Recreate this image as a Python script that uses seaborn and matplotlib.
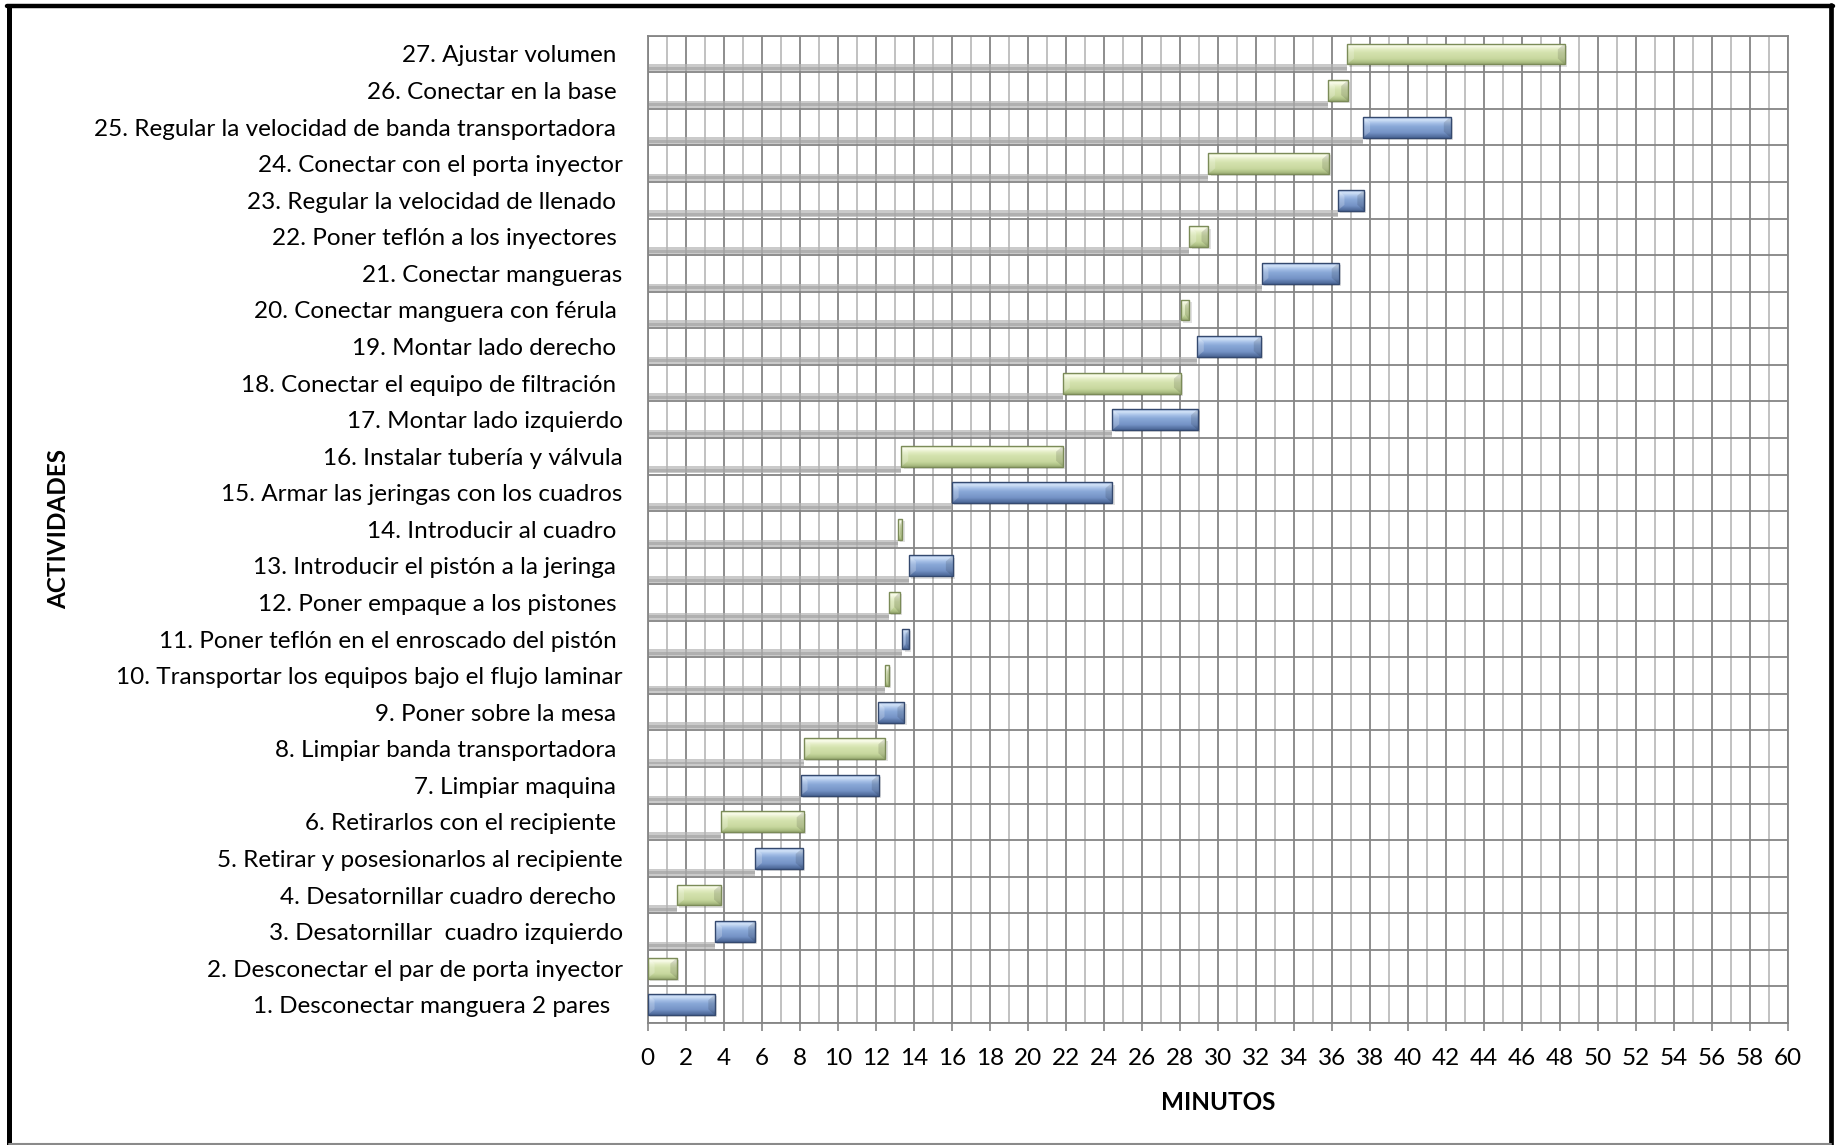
import numpy as np
import pandas as pd
import matplotlib
matplotlib.use("Agg")
import matplotlib.pyplot as plt
from matplotlib.patches import Rectangle, Polygon
from matplotlib.colors import to_rgb
import seaborn as sns

# ---- data -------------------------------------------------------------
actividades = [
    "1. Desconectar manguera 2 pares  ",
    "2. Desconectar el par de porta inyector",
    "3. Desatornillar  cuadro izquierdo",
    "4. Desatornillar cuadro derecho ",
    "5. Retirar y posesionarlos al recipiente",
    "6. Retirarlos con el recipiente ",
    "7. Limpiar maquina ",
    "8. Limpiar banda transportadora ",
    "9. Poner sobre la mesa ",
    "10. Transportar los equipos bajo el flujo laminar",
    "11. Poner teflón en el enroscado del pistón ",
    "12. Poner empaque a los pistones ",
    "13. Introducir el pistón a la jeringa ",
    "14. Introducir al cuadro ",
    "15. Armar las jeringas con los cuadros",
    "16. Instalar tubería y válvula",
    "17. Montar lado izquierdo",
    "18. Conectar el equipo de filtración ",
    "19. Montar lado derecho ",
    "20. Conectar manguera con férula ",
    "21. Conectar mangueras",
    "22. Poner teflón a los inyectores ",
    "23. Regular la velocidad de llenado ",
    "24. Conectar con el porta inyector",
    "25. Regular la velocidad de banda transportadora ",
    "26. Conectar en la base ",
    "27. Ajustar volumen ",
]

inicio = [0.0, 0.0, 3.55, 1.55, 5.65, 3.85, 8.05, 8.2, 12.1, 12.5,
          13.4, 12.7, 13.75, 13.15, 16.0, 13.35, 24.45, 21.85, 28.9, 28.05,
          32.3, 28.5, 36.3, 29.5, 37.65, 35.8, 36.8]

duracion = [3.55, 1.55, 2.1, 2.3, 2.5, 4.35, 4.1, 4.3, 1.4, 0.2,
            0.35, 0.55, 2.3, 0.25, 8.45, 8.5, 4.5, 6.2, 3.35, 0.45,
            4.05, 1.0, 1.4, 6.35, 4.6, 1.05, 11.45]

tipo = ["azul", "verde", "azul", "verde", "azul", "verde", "azul", "verde",
        "azul", "verde", "azul", "verde", "azul", "verde", "azul", "verde",
        "azul", "verde", "azul", "verde", "azul", "verde", "azul", "verde",
        "azul", "verde", "verde"]

xticks = list(range(0, 61, 2))

df = pd.DataFrame({"actividad": actividades, "inicio": inicio,
                   "duracion": duracion, "tipo": tipo})
orden = actividades[::-1]          # last activity on top

# ---- style ------------------------------------------------------------
sns.set_theme(style="white")
plt.rcParams["font.family"] = ["Lato", "DejaVu Sans"]
FS = 17.5

W, H = 1837, 1145
fig = plt.figure(figsize=(W / 100, H / 100), dpi=100)
ax = fig.add_axes([647.7 / W, 1 - 1023 / H, (1788 - 647.7) / W, (1023 - 35.7) / H])

# shadow strips under each row (from 0 to the start of the task)
sns.barplot(data=df, x="inicio", y="actividad", order=orden, orient="h",
            color="#b4b4b4", width=0.19, saturation=1, errorbar=None,
            ax=ax, zorder=2)
for p in ax.patches:
    p.set_y(p.get_y() + 0.375)
    p.set_alpha(0.7)
    p.set_linewidth(0)
# darker core of the shadow
sns.barplot(data=df, x="inicio", y="actividad", order=orden, orient="h",
            color="#a0a0a0", width=0.08, saturation=1, errorbar=None,
            ax=ax, zorder=2.1)
n_sombra = len(orden)
for p in ax.patches[n_sombra:]:
    p.set_y(p.get_y() + 0.39)
    p.set_alpha(0.6)
    p.set_linewidth(0)

pos = {a: i for i, a in enumerate(orden)}
ypos = np.array([pos[a] for a in df["actividad"]])

paletas = {
    "azul": {
        "stops": [(0.0, "#9fbbe4"), (0.12, "#d3e3f8"), (0.3, "#a3bee6"),
                  (0.45, "#89a8d7"), (0.75, "#7593c6"), (0.88, "#5d7aab"),
                  (1.0, "#4a6594")],
        "edge": "#34496f",
    },
    "verde": {
        "stops": [(0.0, "#e4edc6"), (0.12, "#fafcec"), (0.3, "#e2ecc2"),
                  (0.45, "#d4e2ae"), (0.75, "#c8d89f"), (0.88, "#b3c58a"),
                  (1.0, "#9aab73")],
        "edge": "#7b8b58",
    },
}


def gradiente(stops, n=64):
    t = np.linspace(0, 1, n)
    pts = np.array([s[0] for s in stops])
    cols = np.array([to_rgb(s[1]) for s in stops])
    arr = np.stack([np.interp(t, pts, cols[:, k]) for k in range(3)], axis=1)
    return arr[:, None, :]


alto = 0.57
barras = ax.barh(ypos, df["duracion"], left=df["inicio"], height=alto,
                 color=[paletas[t]["stops"][4][1] for t in tipo],
                 edgecolor="none", zorder=3)

bisel_x = 0.36   # minutes
bisel_y = 0.16   # rows
for rect, t in zip(barras.patches, tipo):
    x0, y0 = rect.get_x(), rect.get_y()
    w, h = rect.get_width(), rect.get_height()
    x1, y1 = x0 + w, y0 + h
    # soft drop shadow
    ax.add_patch(Rectangle((x0 + 0.12, y0 + 0.06), w, h, facecolor="#000000",
                           alpha=0.12, edgecolor="none", zorder=2.8))
    img = ax.imshow(gradiente(paletas[t]["stops"]), extent=(x0, x1, y1, y0),
                    aspect="auto", origin="upper", interpolation="bilinear",
                    zorder=3.5)
    img.set_clip_path(rect)
    # bevelled ends
    dx = min(bisel_x, w / 2)
    ax.add_patch(Polygon([(x0, y0), (x0 + dx, y0 + bisel_y), (x0 + dx, y1 - bisel_y), (x0, y1)],
                         closed=True, facecolor="white", alpha=0.22, edgecolor="none",
                         zorder=3.6))
    ax.add_patch(Polygon([(x1, y0), (x1 - dx, y0 + bisel_y), (x1 - dx, y1 - bisel_y), (x1, y1)],
                         closed=True, facecolor="black", alpha=0.12, edgecolor="none",
                         zorder=3.6))
    ax.add_patch(Rectangle((x0, y0), w, h, fill=False,
                           edgecolor=paletas[t]["edge"], linewidth=1.0, zorder=4))

# ---- axes -------------------------------------------------------------
ax.set_xlim(0, 60)
ax.set_ylim(len(orden) - 0.5, -0.5)

ax.set_xticks(xticks)
ax.set_yticks(range(len(orden)))
ax.set_yticklabels(orden)

ax.grid(False)
ax.vlines(xticks, -0.5, len(orden) - 0.5, colors="#858585", linewidth=1.3, zorder=1)
ax.vlines(np.arange(1, 60, 2), -0.5, len(orden) - 0.5, colors="#bcbcbc",
          linewidth=1.3, zorder=1)
ax.hlines(np.arange(-0.5, len(orden), 1.0), 0, 60, colors="#858585",
          linewidth=1.3, zorder=1)

for s in ax.spines.values():
    s.set_color("#858585")
    s.set_linewidth(1.3)

ax.tick_params(axis="x", which="major", direction="out", length=6, width=1.2,
               color="#858585", pad=12, labelsize=FS, labelcolor="black",
               bottom=True)
ax.tick_params(axis="y", which="both", length=0, pad=18, labelsize=FS,
               labelcolor="black")

ax.set_xlabel("MINUTOS", fontsize=FS, fontweight="bold", labelpad=16,
              color="black")
ax.set_ylabel("ACTIVIDADES", fontsize=FS, fontweight="bold", color="black",
              va="center")
ax.yaxis.set_label_coords((58.6 - 647.7) / (1788 - 647.7), 0.5)

# ---- outer frame ------------------------------------------------------
fig.add_artist(plt.Line2D([8.5 / W, 8.5 / W], [1 - 6.3 / H, 0], transform=fig.transFigure,
                          color="black", linewidth=3.6))
fig.add_artist(plt.Line2D([6.7 / W, 1833 / W], [1 - 6.3 / H, 1 - 6.3 / H],
                          transform=fig.transFigure, color="black", linewidth=3.2))
fig.add_artist(plt.Line2D([1831 / W, 1831 / W], [1 - 4.5 / H, 0], transform=fig.transFigure,
                          color="black", linewidth=3.4))
fig.add_artist(plt.Line2D([8.5 / W, 1831 / W], [1.2 / H, 1.2 / H], transform=fig.transFigure,
                          color="#8a8a8a", linewidth=1.5))

fig.savefig("out.png", dpi=100, facecolor="white")
